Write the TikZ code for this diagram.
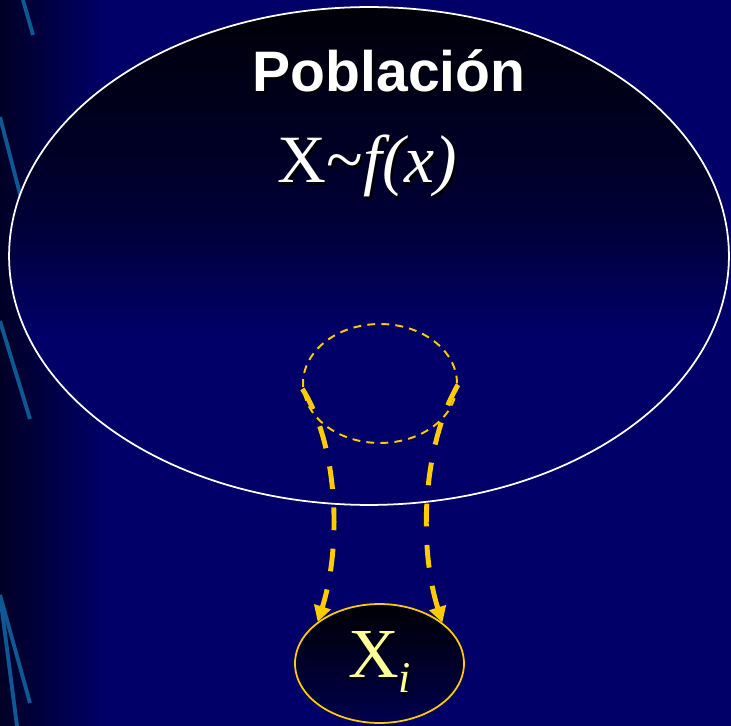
\documentclass[tikz,border=0pt]{standalone}
\usepackage{fontspec}
\setmainfont{Liberation Serif}
\newfontfamily\titulofont{Liberation Sans}
\usetikzlibrary{shapes.geometric,arrows.meta}

\definecolor{fondo}{RGB}{0,0,104}
\definecolor{fondoosc}{RGB}{0,0,38}
\definecolor{pobmedio}{RGB}{0,0,50}
\definecolor{pobtope}{RGB}{0,0,8}
\definecolor{xitope}{RGB}{0,0,5}
\definecolor{xibase}{RGB}{0,0,78}
\definecolor{oro}{RGB}{255,204,0}
\definecolor{crema}{RGB}{255,255,153}
\definecolor{raya}{RGB}{14,88,148}

\pgfdeclareverticalshading{poblacion}{100bp}{color(0bp)=(fondo); color(42bp)=(fondo);
  color(55bp)=(pobmedio); color(75bp)=(pobtope); color(100bp)=(pobtope)}

\newcommand{\sombra}[1]{\leavevmode\rlap{\hspace{1.2pt}\raisebox{-1.2pt}{\color{black}#1}}#1}

\begin{document}
\begin{tikzpicture}[x=0.02cm,y=-0.02cm,
    flecha/.style={draw=oro, line width=2.8pt, dash pattern=on 13pt off 10.5pt,
      -{Triangle[length=9pt,width=9.5pt]}}]
    \useasboundingbox (0,0) rectangle (731,726);

    % Fondo
    \fill[fondo] (0,0) rectangle (731,726);
    \shade[left color=fondoosc, right color=fondo] (0,0) rectangle (105,726);
    \foreach \xa/\ya/\xb/\yb in {23/0/33/35, 0/117/21/198, 0/321/30/419, 0/595/30/703, 0/595/17/726} {
        \draw[raya, line width=2.2pt] (\xa,\ya) -- (\xb,\yb);
    }

    % Poblacion
    \node[ellipse, draw=white, line width=1pt, shade, shading=poblacion,
      minimum width=14.4cm, minimum height=9.96cm, inner sep=0pt] (poblacion) at (369,256) {};
    \node[text=white, font=\titulofont\bfseries\fontsize{32.5}{39}\selectfont, anchor=base]
      (titulo) at (389,91.7) {\sombra{Población}};
    \node[text=white, font=\fontsize{38.5}{46}\selectfont, anchor=base]
      (modelo) at (367.5,183) {\sombra{X\textasciitilde\textit{f(x)}}};

    % Muestra
    \node[ellipse, draw=oro, line width=1.1pt, dash pattern=on 4.5pt off 3.5pt,
      minimum width=3.08cm, minimum height=2.38cm, inner sep=0pt] (muestra) at (380,383.5) {};
    \node[ellipse, draw=oro, line width=1pt, top color=xitope, bottom color=xibase,
      minimum width=3.38cm, minimum height=2.38cm, inner sep=0pt, text=crema,
      font=\fontsize{40}{48}\selectfont] (xi) at (379.5,663.5)
      {\sombra{X{\fontsize{25}{30}\selectfont\raisebox{-8.5pt}{\textit{i}}}}};

    % Flechas
    \draw[flecha] (muestra.184) .. controls (338,445) and (342,545) .. (xi.146);
    \draw[flecha] (muestra.-1) .. controls (423,445) and (418,545) .. (xi.33);
\end{tikzpicture}
\end{document}
